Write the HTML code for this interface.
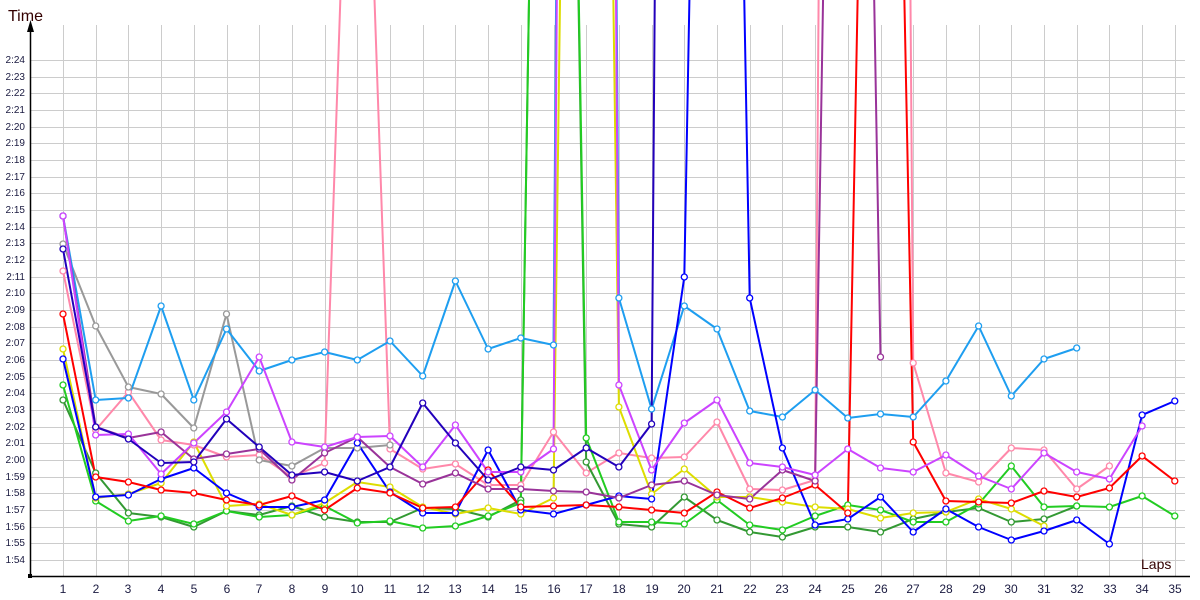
<!DOCTYPE html>
<html><head><meta charset="utf-8"><style>
body{margin:0;background:#fff;width:1200px;height:600px;overflow:hidden;font-family:"Liberation Sans",sans-serif}
svg{position:absolute;left:0;top:0}
.yl{font-size:10px;fill:#1a1a40;text-anchor:end}
.xl{font-size:12px;fill:#1a1a40;text-anchor:middle}
</style></head><body>
<svg id="s" width="1200" height="600" xmlns="http://www.w3.org/2000/svg">
<g id="grid" stroke="#cccccc" stroke-width="1"></g>
<g id="series" clip-path="url(#c)"></g>
<defs><clipPath id="c"><rect x="31" y="0" width="1169" height="576"/></clipPath></defs>
<line x1="30.5" y1="576" x2="30.5" y2="30" stroke="#000" stroke-width="1.5"/>
<polygon points="30.5,20 27,32 34,32" fill="#000"/>
<line x1="30" y1="576.5" x2="1190" y2="576.5" stroke="#000" stroke-width="1.5"/>
<rect x="28" y="574" width="4" height="4" fill="#000"/>
<text x="8" y="21" style="font-size:16px;fill:#330000">Time</text>
<text x="1141" y="569" style="font-size:14px;fill:#330000">Laps</text>
<g class="yl">
<text x="25" y="563">1:54</text><text x="25" y="546">1:55</text><text x="25" y="530">1:56</text><text x="25" y="513">1:57</text><text x="25" y="496">1:58</text><text x="25" y="480">1:59</text><text x="25" y="463">2:00</text><text x="25" y="446">2:01</text><text x="25" y="430">2:02</text><text x="25" y="413">2:03</text><text x="25" y="396">2:04</text><text x="25" y="380">2:05</text><text x="25" y="363">2:06</text><text x="25" y="346">2:07</text><text x="25" y="330">2:08</text><text x="25" y="313">2:09</text><text x="25" y="296">2:10</text><text x="25" y="280">2:11</text><text x="25" y="263">2:12</text><text x="25" y="246">2:13</text><text x="25" y="230">2:14</text><text x="25" y="213">2:15</text><text x="25" y="196">2:16</text><text x="25" y="180">2:17</text><text x="25" y="163">2:18</text><text x="25" y="146">2:19</text><text x="25" y="130">2:20</text><text x="25" y="113">2:21</text><text x="25" y="96">2:22</text><text x="25" y="80">2:23</text><text x="25" y="63">2:24</text>
</g>
<g class="xl">
<text x="63" y="593">1</text><text x="96" y="593">2</text><text x="128" y="593">3</text><text x="161" y="593">4</text><text x="194" y="593">5</text><text x="227" y="593">6</text><text x="259" y="593">7</text><text x="292" y="593">8</text><text x="325" y="593">9</text><text x="357" y="593">10</text><text x="390" y="593">11</text><text x="423" y="593">12</text><text x="455" y="593">13</text><text x="488" y="593">14</text><text x="521" y="593">15</text><text x="554" y="593">16</text><text x="586" y="593">17</text><text x="619" y="593">18</text><text x="652" y="593">19</text><text x="684" y="593">20</text><text x="717" y="593">21</text><text x="750" y="593">22</text><text x="782" y="593">23</text><text x="815" y="593">24</text><text x="848" y="593">25</text><text x="881" y="593">26</text><text x="913" y="593">27</text><text x="946" y="593">28</text><text x="979" y="593">29</text><text x="1011" y="593">30</text><text x="1044" y="593">31</text><text x="1077" y="593">32</text><text x="1110" y="593">33</text><text x="1142" y="593">34</text><text x="1175" y="593">35</text>
</g>
</svg>
<script>
var NS="http://www.w3.org/2000/svg";
function X(n){return 63+32.7*(n-1);}
var g=document.getElementById('grid');
function ln(x1,y1,x2,y2){var l=document.createElementNS(NS,'line');l.setAttribute('x1',x1);l.setAttribute('y1',y1);l.setAttribute('x2',x2);l.setAttribute('y2',y2);g.appendChild(l);}
for(var n=1;n<=35;n++){var x=Math.round(X(n))+0.5;ln(x,25,x,576);}
for(var k=0;k<=30;k++){var y=Math.round(560-k*16.67)+0.5;ln(31,y,1185,y);}
var H=-4000;
var S=[
["#ff88aa",[271,430,392,440,445,457,455,477,463,-500,449,469,464,485,485,432,473,453,458,457,422,489,490,480,H,H,363,473,482,448,450,489,466]],
["#999999",[244,326,387,394,428,314,460,466,448,448,445]],
["#1e9ef0",[216,400,398,306,400,329,371,360,352,360,341,376,281,349,338,345,H,298,409,306,329,411,417,390,418,414,417,381,326,396,359,348]],
["#339933",[400,473,513,517,527,511,515,506,517,522,522,508,509,517,500,-1500,462,524,527,497,520,532,537,527,527,532,519,512,508,522,519,506]],
["#22cc22",[385,501,521,516,524,511,517,515,506,523,521,528,526,516,503,-1500,438,522,522,524,500,525,530,516,505,510,522,522,504,466,507,506,507,496,516]],
["#dddd00",[349,498,494,483,442,506,504,515,503,482,487,507,514,508,514,498,-2000,407,494,469,497,497,502,507,509,518,513,512,499,509,526]],
["#0000ff",[359,497,495,479,468,493,507,507,500,443,492,513,513,450,510,514,505,496,499,277,-1500,298,448,525,519,497,532,509,527,540,531,520,544,415,401]],
["#ff0000",[314,477,482,490,493,500,505,496,510,488,493,508,507,470,507,506,505,507,510,513,492,508,498,485,513,-1200,442,501,502,503,491,497,488,456,481]],
["#993399",[216,427,438,432,459,454,449,480,453,437,467,484,473,489,489,491,492,498,485,481,495,499,470,481,-1500,357]],
["#cc44ff",[216,435,434,474,443,412,357,442,447,437,436,467,425,472,472,449,H,385,470,423,400,463,467,475,449,468,472,455,476,489,453,472,479,426]],
["#2200bb",[249,427,439,463,462,419,447,475,472,481,467,403,443,480,467,470,448,467,424,H]]
];
var sg=document.getElementById('series');
var mk=[];
S.forEach(function(s){
 var pts=s[1].map(function(v,i){return X(i+1).toFixed(1)+","+v;}).join(" ");
 var p=document.createElementNS(NS,'polyline');p.setAttribute('points',pts);p.setAttribute('fill','none');p.setAttribute('stroke',s[0]);p.setAttribute('stroke-width','2');p.setAttribute('stroke-linejoin','round');sg.appendChild(p);
 s[1].forEach(function(v,i){if(v>0)mk.push([X(i+1),v,s[0]]);});
});
mk.forEach(function(m){var c=document.createElementNS(NS,'circle');c.setAttribute('cx',m[0]);c.setAttribute('cy',m[1]);c.setAttribute('r','3');c.setAttribute('fill','#fff');c.setAttribute('stroke',m[2]);c.setAttribute('stroke-width','1.3');sg.appendChild(c);});
</script>
</body></html>
